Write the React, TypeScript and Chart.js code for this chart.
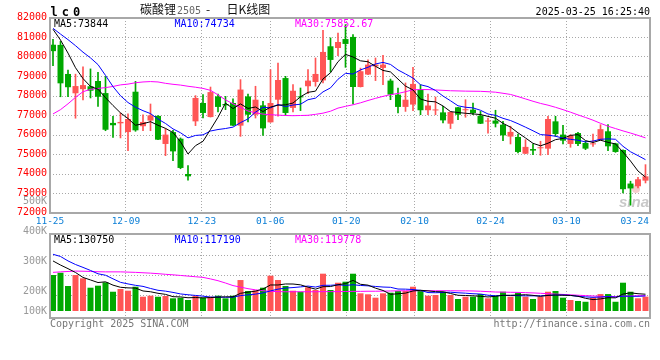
import React, { useEffect, useRef } from 'react';
import { Chart, registerables } from 'chart.js';

Chart.register(...registerables);

// ---------- data ----------
const opens = [
  80630, 80620, 79130, 78140, 78350, 78500, 78770, 78150, 76620, 76600,
  76150, 78220, 76450, 76740, 76980, 75540, 76150, 75810, 74000, 76700,
  77640, 76920, 77980, 77590, 77640, 76480, 77980, 77040, 77520, 76650,
  77810, 78920, 77390, 77980, 78500, 78720, 78800, 80550, 80460, 80920,
  81030, 78460, 79100, 79520, 79440, 78790, 78070, 77440, 77560, 78330,
  77270, 77260, 77160, 76580, 77420, 77270, 77300, 76990, 76690, 76740,
  76530, 75920, 75900, 75040, 75280, 75320, 75300, 76700, 76020, 75540,
  76100, 75590, 75520, 75730, 76190, 75570, 75230, 73510, 73370, 73660,
];
const highs = [
  80900, 80800, 79330, 79120, 79500, 79390, 79210, 79000, 76960, 77130,
  77080, 78750, 77040, 77590, 77000, 76330, 76240, 75850, 74430, 78020,
  78070, 78460, 78100, 77980, 77860, 78840, 78100, 78500, 77730, 79350,
  79690, 79010, 78580, 78410, 79350, 79950, 81370, 80980, 81230, 81660,
  81150, 79430, 79860, 79950, 80090, 78870, 78410, 78670, 79470, 78580,
  78100, 77950, 77470, 77200, 77420, 77810, 77640, 77210, 76870, 77270,
  76700, 76450, 76050, 75760, 75540, 75680, 76960, 76960, 76500, 76020,
  76140, 75680, 76050, 76530, 76530, 75580, 75240, 73630, 73830, 74480,
];
const lows = [
  79550, 77960, 77960, 76860, 77800, 77900, 77470, 76220, 75880, 75850,
  75200, 76190, 76220, 76220, 75760, 74940, 74690, 74270, 73680, 76480,
  76870, 76920, 77180, 77300, 76480, 75930, 76670, 76870, 75980, 76650,
  76960, 77010, 77180, 77250, 78120, 78500, 78670, 79230, 80070, 79470,
  77600, 78460, 79090, 78790, 78580, 77810, 77130, 77210, 77250, 77040,
  77040, 77040, 76620, 76330, 76790, 76910, 77040, 76580, 76100, 76410,
  75710, 75540, 75080, 75040, 74990, 74960, 74990, 75930, 75540, 75370,
  75450, 75250, 75420, 75730, 75200, 75110, 73030, 72400, 73280, 73540,
];
const closes = [
  80300, 78650, 78450, 78510, 78560, 78270, 77960, 76270, 76500, 76670,
  76820, 76240, 76670, 77010, 75760, 76020, 75160, 74310, 73880, 77900,
  77130, 78200, 77440, 77520, 76480, 78330, 77040, 77810, 76340, 77640,
  78820, 77130, 78270, 77930, 78790, 79130, 80260, 79850, 80770, 80670,
  78460, 79270, 79610, 79610, 79610, 78070, 77440, 77810, 78620, 77270,
  77510, 77290, 76750, 77180, 77040, 77310, 77130, 76580, 76710, 76580,
  75980, 76160, 75130, 75390, 75200, 75350, 76820, 76050, 75710, 75970,
  75540, 75300, 75560, 76300, 75420, 75130, 73220, 73260, 73730, 73880,
];
const volumes = [
  280400, 298100, 194700, 280300, 254800, 181600, 197300, 223500, 150200, 171400,
  158300, 189200, 111400, 119300, 111200, 116800, 98900, 103600, 85700, 119200,
  103800, 111300, 119400, 98700, 119100, 241300, 155800, 160200, 181700, 275100,
  241400, 194800, 158100, 150300, 184600, 163700, 290800, 163900, 220400, 228300,
  290600, 137900, 130100, 103700, 137800, 142600, 155900, 156200, 189300, 163800,
  119400, 124600, 150300, 124800, 93400, 111200, 111500, 132400, 98800, 119300,
  150400, 111300, 142700, 111400, 93500, 111100, 150200, 155800, 103900, 85600,
  78000, 72000, 104000, 132000, 132150, 72000, 220500, 150250, 99000, 112000,
];
// sessions before the first visible day (oldest first), needed for MA5/MA10
const priorCloses = [81600, 81300, 81600, 81900, 81200, 81400, 81800, 82260, 81340];
const priorVolumes = [470000, 540000, 560000, 480000, 420000, 458000, 335000, 430000, 447000];
// MA30 lines
const ma30Close = [
  77080, 77300, 77600, 77930, 78220, 78340, 78390, 78430, 78490, 78570,
  78610, 78680, 78720, 78740, 78720, 78650, 78600, 78560, 78500, 78450,
  78390, 78290, 78060, 77800, 77600, 77420, 77230, 77140, 77070, 77040,
  77020, 77000, 76990, 77000, 77010, 77060, 77120, 77220, 77380, 77470,
  77550, 77650, 77770, 77880, 77980, 78070, 78130, 78220, 78320, 78330,
  78330, 78310, 78290, 78270, 78260, 78250, 78245, 78240, 78220, 78195,
  78140, 78080, 77970, 77850, 77730, 77620, 77530, 77420, 77300, 77170,
  77030, 76900, 76760, 76600, 76450, 76330, 76210, 76100, 75980, 75852.67,
];
const ma30Volume = [
  301000, 305000, 308000, 311000, 310000, 308000, 306000, 305000, 305000, 305000,
  303000, 301000, 298000, 295000, 291000, 286000, 282000, 277000, 272000, 267000,
  262000, 250000, 236000, 218000, 198000, 186000, 174000, 165000, 158000, 153000,
  151000, 150000, 150000, 150000, 150000, 150000, 151000, 151000, 151000, 152000,
  153000, 153000, 154000, 154000, 155000, 156000, 157000, 158000, 158000, 158000,
  158000, 158000, 158000, 158000, 157000, 157000, 156000, 154000, 151000, 148000,
  147000, 146000, 145000, 143000, 141000, 138000, 135000, 132000, 129000, 126000,
  123000, 120000, 117000, 114000, 112000, 113000, 115000, 117000, 118500, 119778,
];
const priceTicks = [72000, 73000, 74000, 75000, 76000, 77000, 78000, 79000, 80000, 81000, 82000];
const volumeTickLabels = ['500K', '400K', '300K', '200K', '100K'];
const dateTicks = ['11-25', '12-09', '12-23', '01-06', '01-20', '02-10', '02-24', '03-10', '03-24'];
const dateTickIndex = [0, 10, 20, 29, 39, 48, 58, 68, 78];
const symbol = 'lc0';
const titleName = '碳酸锂';
const titleCode = '2505';
const titleDash = '-';
const titleKind = '日K线图';
const timestamp = '2025-03-25 16:25:40';
const copyright = 'Copyright 2025 SINA.COM';
const siteUrl = 'http://finance.sina.com.cn';

// ---------- style ----------
const UP = '#ff5555';
const DOWN = '#00a800';
const C_MA5 = '#000000';
const C_MA10 = '#0000ff';
const C_MA30 = '#ff00ff';
const MONO = '"DejaVu Sans Mono", monospace';
const CJK = '"Noto Sans CJK SC", sans-serif';
const GRID = '#a8a8a8';
const FRAME = '#a8a8a8';

function movingAverage(prior: number[], series: number[], n: number): number[] {
  const all = prior.concat(series);
  const off = prior.length;
  return series.map((_, i) => {
    let s = 0;
    for (let k = 0; k < n; k++) s += all[off + i - k];
    return s / n;
  });
}

const N = closes.length;
const idx = closes.map((_, i) => i);
const barColors = idx.map((i) => (closes[i] >= opens[i] ? UP : DOWN));
const ma5 = movingAverage(priorCloses, closes, 5);
const ma10 = movingAverage(priorCloses, closes, 10);
const vma5 = movingAverage(priorVolumes, volumes, 5);
const vma10 = movingAverage(priorVolumes, volumes, 10);

const fmtInt = (v: number) => String(Math.round(v));

// date grid lines are spread over the full plot width (first day at the left frame, last at the right)
function gridX(chart: any, k: number) {
  return chart.scales.x.getPixelForValue((k * N) / (N - 1) - 0.4);
}

function drawVGrid(chart: any) {
  const { ctx, chartArea: a } = chart;
  ctx.save();
  ctx.strokeStyle = GRID;
  ctx.lineWidth = 1;
  ctx.setLineDash([1, 2]);
  dateTickIndex.forEach((k, j) => {
    if (j === 0 || j === dateTickIndex.length - 1) return;
    const px = Math.floor(gridX(chart, k)) + 0.5;
    ctx.beginPath();
    ctx.moveTo(px, a.top);
    ctx.lineTo(px, a.bottom);
    ctx.stroke();
  });
  ctx.restore();
}

function drawFrame(chart: any) {
  const { ctx, chartArea: a } = chart;
  ctx.save();
  ctx.strokeStyle = FRAME;
  ctx.lineWidth = 2;
  ctx.setLineDash([]);
  ctx.strokeRect(a.left, a.top, a.right - a.left, a.bottom - a.top);
  ctx.restore();
}

function drawMaLabels(chart: any, baseline: number, texts: [string, string][]) {
  const { ctx, chartArea: a } = chart;
  ctx.save();
  ctx.font = `10px ${MONO}`;
  ctx.textAlign = 'left';
  ctx.textBaseline = 'alphabetic';
  texts.forEach(([t, c], k) => {
    ctx.fillStyle = c;
    ctx.fillText(t, a.left + 4 + k * 120.5, baseline);
  });
  ctx.restore();
}

const mainChrome = {
  id: 'mainChrome',
  beforeDatasetsDraw(chart: any) {
    const { ctx, chartArea: a, scales } = chart;
    const y = scales.y;
    ctx.save();
    ctx.strokeStyle = GRID;
    ctx.lineWidth = 1;
    ctx.setLineDash([1, 2]);
    priceTicks.forEach((v) => {
      if (v <= y.min || v >= y.max) return;
      const py = Math.floor(y.getPixelForValue(v)) + 0.5;
      ctx.beginPath();
      ctx.moveTo(a.left, py);
      ctx.lineTo(a.right, py);
      ctx.stroke();
    });
    ctx.restore();
    drawVGrid(chart);
    // watermark
    ctx.save();
    ctx.font = 'italic bold 15px "Liberation Sans", sans-serif';
    ctx.fillStyle = 'rgba(190,190,190,0.85)';
    ctx.textAlign = 'right';
    ctx.textBaseline = 'alphabetic';
    ctx.fillText('sina', a.right - 1, a.bottom - 6);
    ctx.fillStyle = 'rgba(240,170,170,0.6)';
    ctx.beginPath();
    ctx.arc(a.right - 14, a.bottom - 24, 4, 0, Math.PI * 2);
    ctx.fill();
    ctx.restore();
  },
  afterDatasetsDraw(chart: any) {
    const { ctx, chartArea: a, scales } = chart;
    const y = scales.y;
    drawFrame(chart);
    ctx.save();
    // price labels
    ctx.font = `10px ${MONO}`;
    ctx.fillStyle = '#ff0000';
    ctx.textAlign = 'right';
    ctx.textBaseline = 'alphabetic';
    priceTicks.forEach((v) => {
      ctx.fillText(String(v), a.left - 3, y.getPixelForValue(v) + 2);
    });
    // date labels
    ctx.font = `9.5px ${MONO}`;
    ctx.fillStyle = '#0a7ed6';
    ctx.textAlign = 'left';
    dateTicks.forEach((t, j) => {
      const cx = gridX(chart, dateTickIndex[j]);
      const w = ctx.measureText(t).width;
      let left = cx - w / 2;
      if (left + w > a.right - 1) left = a.right - 1 - w;
      ctx.fillText(t, left, a.bottom + 11);
    });
    // symbol
    ctx.font = `bold 12px ${MONO}`;
    ctx.fillStyle = '#000';
    symbol.split('').forEach((ch, k) => ctx.fillText(ch, a.left + 0.5 + k * 11.2, 16));
    // title
    ctx.font = `12px ${CJK}`;
    ctx.fillStyle = '#111';
    ctx.fillText(titleName, 140, 14);
    ctx.font = `10px ${MONO}`;
    ctx.fillStyle = '#666';
    ctx.fillText(titleCode, 177, 14);
    ctx.font = `12px ${CJK}`;
    ctx.fillStyle = '#111';
    ctx.fillText(titleDash, 206, 14);
    ctx.fillText(titleKind, 226.5, 14);
    // timestamp
    ctx.font = `10px ${MONO}`;
    ctx.fillStyle = '#000';
    ctx.textAlign = 'right';
    ctx.fillText(timestamp, a.right, 15);
    ctx.restore();
    drawMaLabels(chart, a.top + 9, [
      ['MA5:' + fmtInt(ma5[N - 1]), C_MA5],
      ['MA10:' + fmtInt(ma10[N - 1]), C_MA10],
      ['MA30:' + String(ma30Close[N - 1]), C_MA30],
    ]);
  },
};

const volChrome = {
  id: 'volChrome',
  beforeDatasetsDraw(chart: any) {
    const { ctx, chartArea: a } = chart;
    ctx.save();
    ctx.strokeStyle = GRID;
    ctx.lineWidth = 1;
    ctx.setLineDash([1, 2]);
    [21, 41, 61].forEach((d) => {
      const py = Math.floor(a.top + d) + 0.5;
      ctx.beginPath();
      ctx.moveTo(a.left, py);
      ctx.lineTo(a.right, py);
      ctx.stroke();
    });
    ctx.restore();
    drawVGrid(chart);
  },
  afterDatasetsDraw(chart: any) {
    const { ctx, chartArea: a } = chart;
    drawFrame(chart);
    ctx.save();
    ctx.font = `10px ${MONO}`;
    ctx.fillStyle = '#999';
    ctx.textAlign = 'right';
    ctx.textBaseline = 'alphabetic';
    volumeTickLabels.forEach((t, k) => {
      const yy = k === volumeTickLabels.length - 1 ? a.bottom - 4 : a.top - 30 + 30 * k;
      ctx.fillText(t, a.left - 3, yy);
    });
    ctx.fillStyle = '#777';
    ctx.textAlign = 'left';
    ctx.fillText(copyright, a.left, a.bottom + 9);
    ctx.textAlign = 'right';
    ctx.fillText(siteUrl, a.right, a.bottom + 9);
    ctx.restore();
    drawMaLabels(chart, a.top + 9, [
      ['MA5:' + fmtInt(vma5[N - 1]), C_MA5],
      ['MA10:' + fmtInt(vma10[N - 1]), C_MA10],
      ['MA30:' + String(ma30Volume[N - 1]), C_MA30],
    ]);
  },
};

function lineDs(label: string, values: number[], color: string) {
  return {
    type: 'line' as const,
    label,
    data: idx.map((i) => ({ x: i, y: values[i] })),
    borderColor: color,
    borderWidth: 1,
    pointRadius: 0,
    tension: 0,
    fill: false,
    xAxisID: 'x',
    yAxisID: 'y',
    order: 0,
  };
}

function baseOptions(yMin: number, yMax: number, padTop: number, padBottom: number) {
  return {
    animation: false as const,
    responsive: false,
    devicePixelRatio: 1,
    events: [] as any[],
    layout: { padding: { left: 50, right: 10, top: padTop, bottom: padBottom } },
    plugins: { legend: { display: false }, tooltip: { enabled: false }, title: { display: false } },
    scales: {
      x: { type: 'linear' as const, min: -0.4, max: N - 0.4, offset: false, display: false },
      y: { type: 'linear' as const, min: yMin, max: yMax, display: false },
    },
  };
}

export default function App() {
  const mainRef = useRef<HTMLCanvasElement>(null);
  const volRef = useRef<HTMLCanvasElement>(null);

  useEffect(() => {
    document.body.style.margin = '0';
    const main = new Chart(mainRef.current as HTMLCanvasElement, {
      type: 'bar',
      data: {
        datasets: [
          lineDs('MA5', ma5, C_MA5),
          lineDs('MA10', ma10, C_MA10),
          lineDs('MA30', ma30Close, C_MA30),
          {
            type: 'bar',
            label: 'body',
            data: idx.map((i) => ({ x: i, y: [Math.min(opens[i], closes[i]), Math.max(opens[i], closes[i])] })),
            backgroundColor: barColors,
            borderWidth: 0,
            barPercentage: 0.8,
            categoryPercentage: 1,
            grouped: false,
            minBarLength: 1,
            xAxisID: 'x',
            yAxisID: 'y',
            order: 1,
          },
          {
            type: 'bar',
            label: 'wick',
            data: idx.map((i) => ({ x: i, y: [lows[i], highs[i]] })),
            backgroundColor: barColors,
            borderWidth: 0,
            barThickness: 1,
            grouped: false,
            xAxisID: 'x',
            yAxisID: 'y',
            order: 2,
          },
        ] as any,
      },
      options: baseOptions(72000, 82000, 18, 19) as any,
      plugins: [mainChrome],
    });
    const vol = new Chart(volRef.current as HTMLCanvasElement, {
      type: 'bar',
      data: {
        datasets: [
          lineDs('MA5', vma5, C_MA5),
          lineDs('MA10', vma10, C_MA10),
          lineDs('MA30', ma30Volume, C_MA30),
          {
            type: 'bar',
            label: 'volume',
            data: idx.map((i) => ({ x: i, y: volumes[i] })),
            backgroundColor: barColors,
            borderWidth: 0,
            barPercentage: 0.8,
            categoryPercentage: 1,
            grouped: false,
            xAxisID: 'x',
            yAxisID: 'y',
            order: 1,
          },
        ] as any,
      },
      options: baseOptions(-54500, 600000, 44, 42) as any,
      plugins: [volChrome],
    });
    return () => {
      main.destroy();
      vol.destroy();
    };
  }, []);

  return (
    <div style={{ position: 'relative', width: 660, height: 360, background: '#fff', overflow: 'hidden' }}>
      <canvas ref={mainRef} width={660} height={232} style={{ position: 'absolute', left: 0, top: 0 }} />
      <canvas ref={volRef} width={660} height={170} style={{ position: 'absolute', left: 0, top: 190 }} />
    </div>
  );
}
